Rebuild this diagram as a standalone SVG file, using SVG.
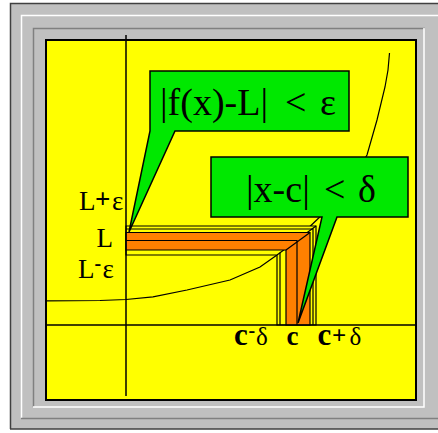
<svg xmlns="http://www.w3.org/2000/svg" width="438" height="433" viewBox="0 0 438 433">
<style>
.ln{fill:none;stroke:#000;stroke-width:1.2}
.band{stroke:#000;stroke-width:1.2;stroke-linejoin:miter}
.lbl{font-family:"Liberation Serif","Times New Roman",serif;font-size:27px;fill:#000}
.big{font-family:"Liberation Serif","Times New Roman",serif;font-size:38px;fill:#000}
.callout{fill:#00E800;stroke:#000;stroke-width:1.5;stroke-linejoin:miter}
.b{font-weight:bold}
</style>
<rect width="438" height="433" fill="#fff"/>
<g id="frame">
  <rect x="10" y="3" width="440" height="426" fill="#C0C0C0"/>
  <path d="M10.5,429 V3.5 H438" fill="none" stroke="#404040" stroke-width="1.5"/>
  <path d="M10,429 H438" fill="none" stroke="#404040" stroke-width="1.5"/>
  <path d="M21.5,418 V15.5 H438" fill="none" stroke="#fff" stroke-width="1.5"/>
  <path d="M21,418.5 H438" fill="none" stroke="#808080" stroke-width="1.5"/>
  <path d="M33.5,407 V28.5 H425" fill="none" stroke="#808080" stroke-width="1.5"/>
  <path d="M33,407 H424 V28" fill="none" stroke="#fff" stroke-width="1.5"/>
  <rect x="46" y="40" width="370" height="360" fill="#FFFF00" stroke="#000" stroke-width="2"/>
</g>
<g id="curve">
  <polyline class="ln" points="46,300.8 100,300.5 126,299.5 153,296.8 187,290 230,280 260,267 277,255 300,236 325,212 350,183 367,155 377,120 385,87 388,70 389.5,53"/>
</g>
<g id="bands">
  <path class="band" fill="#FFFF00" d="M126,226 H316 V325 H277 V255 H126 Z"/>
  <path class="ln" d="M277,255 L316,226"/>
  <path class="ln" d="M126,229 H313 V325"/>
  <path class="ln" d="M280,325 V252.8"/>
  <path class="band" fill="#FF8000" d="M126,232.5 H310 V325 H286 V250 H126 Z"/>
  <path class="ln" d="M286,250 L310,232.5"/>
  <path class="ln" d="M126,240.5 H297 V325"/>
</g>
<g id="axes">
  <path d="M126,35 V396" fill="none" stroke="#000" stroke-width="1.5"/>
  <path d="M46,325 H416" fill="none" stroke="#000" stroke-width="1.5"/>
</g>
<g id="labels">
  <text class="lbl" y="210"><tspan x="79">L</tspan><tspan class="b" x="95" y="208" font-size="27">+</tspan><tspan x="112" y="210">ε</tspan></text>
  <text class="lbl" x="96.5" y="246.5">L</text>
  <text class="lbl" y="278"><tspan x="78">L</tspan><tspan class="b" x="94.5" y="270" font-size="20">-</tspan><tspan x="102.5" y="278">ε</tspan></text>
  <text class="lbl" y="345"><tspan class="b" x="234" font-size="31">c</tspan><tspan class="b" x="248.5" y="337" font-size="20">-</tspan><tspan x="256" y="345" font-size="25">δ</tspan></text>
  <text class="lbl b" x="286.5" y="345" font-size="31">c</text>
  <text class="lbl" y="345"><tspan class="b" x="317.5" font-size="31">c</tspan><tspan class="b" x="332" y="344" font-size="25">+</tspan><tspan x="349.5" y="345" font-size="25">δ</tspan></text>
</g>
<g id="callout1">
  <path class="callout" d="M150,71 H349 V131 H175 L129,232 L150,131 Z"/>
  <text class="big" y="115"><tspan x="160">|f(x)-L|</tspan><tspan x="285">&lt;</tspan><tspan x="320">ε</tspan></text>
</g>
<g id="callout2">
  <path class="callout" d="M211,157 H408 V217 H337 L298,323 L322,217 H211 Z"/>
  <text class="big" y="202"><tspan x="246">|x-c|</tspan><tspan x="324">&lt;</tspan><tspan x="358">δ</tspan></text>
</g>
</svg>
